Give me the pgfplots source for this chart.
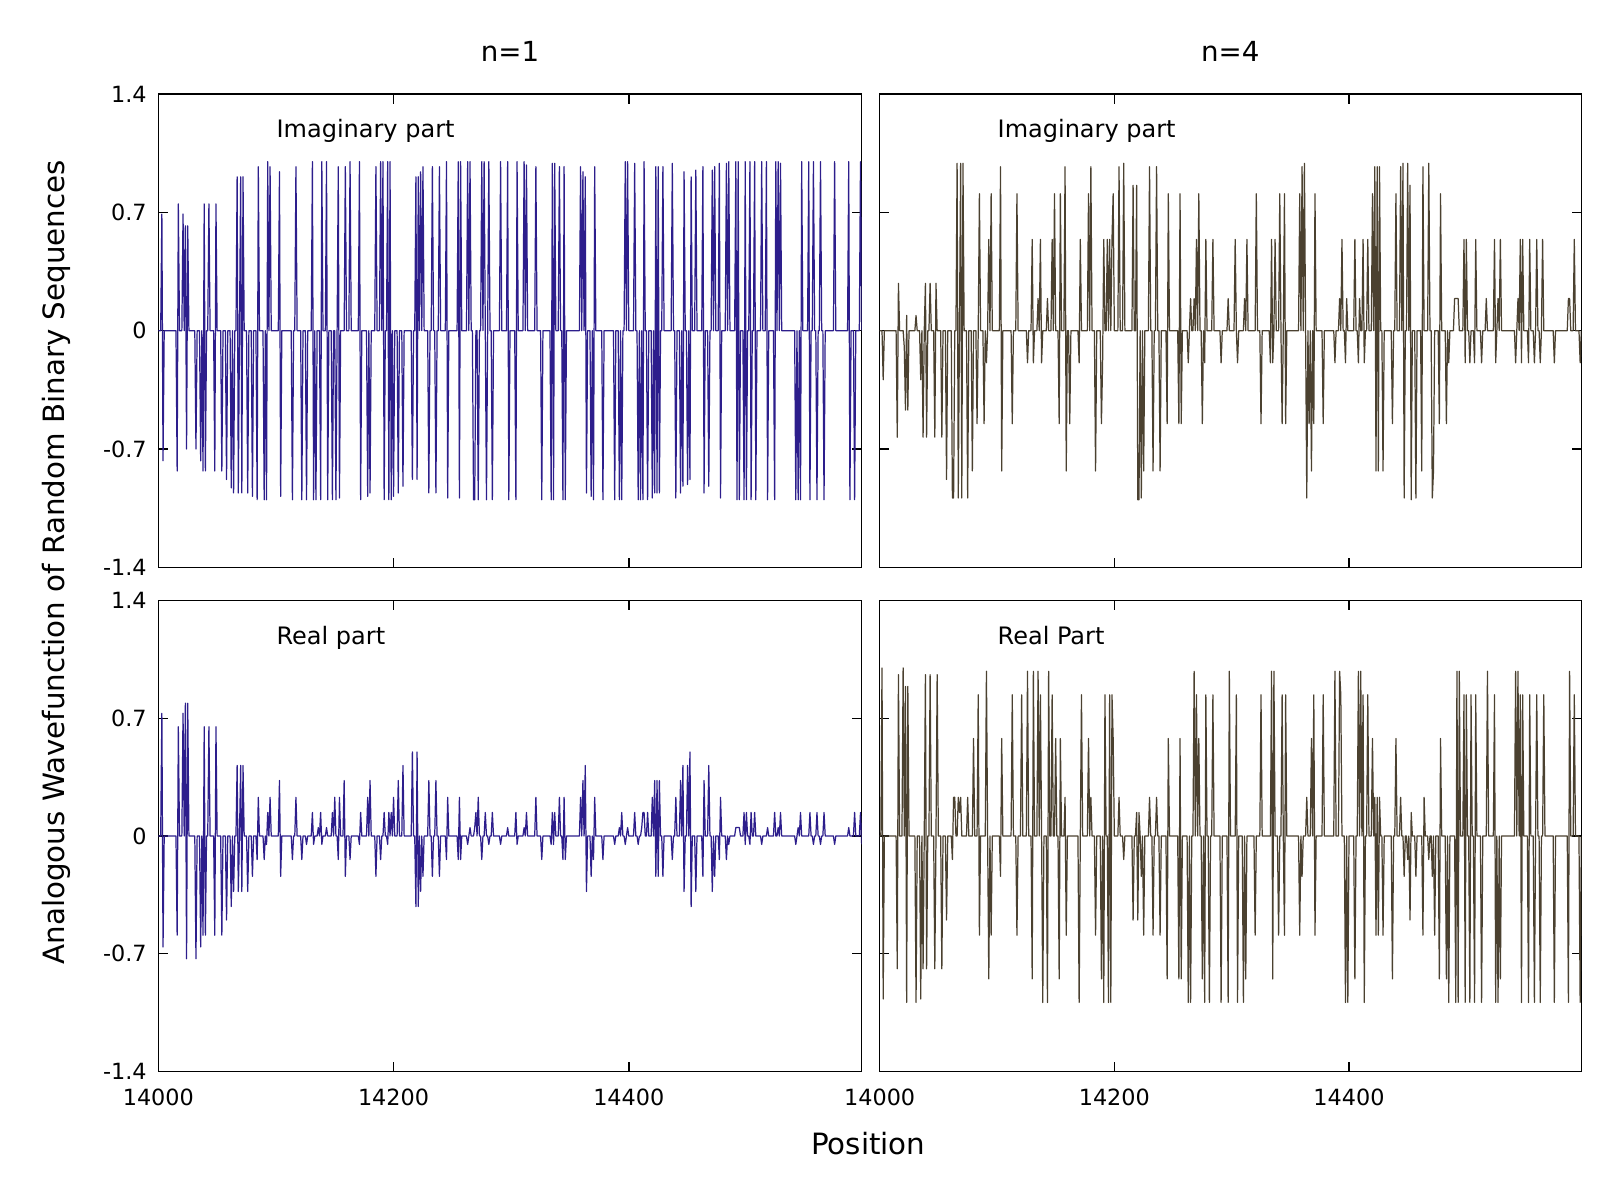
\documentclass[border=0pt]{standalone}
\usepackage{pgfplots}
\pgfplotsset{compat=1.18}
\usepackage{fontspec}
\setmainfont{DejaVu Sans}
\definecolor{rbsblue}{RGB}{45,30,140}
\definecolor{rbsbrown}{RGB}{75,65,48}
\newcommand\tickfont{\fontsize{6.7pt}{8pt}\selectfont}
\newcommand\labfont{\fontsize{7.2pt}{8.6pt}\selectfont}
\newcommand\titfont{\fontsize{8.3pt}{10pt}\selectfont}
\newcommand\axfont{\fontsize{8.8pt}{10.5pt}\selectfont}
\pgfplotsset{
  rbs/.style={scale only axis, xmin=0, xmax=598, ymin=-1.4, ymax=1.4,
    xtick={0,200,400}, ytick={-1.4,-0.7,0,0.7,1.4},
    xticklabels={14000,14200,14400}, yticklabels={-1.4,-0.7,0,0.7,1.4},
    tick align=inside, major tick length=2.9pt,
    tick style={black, line width=0.45pt},
    axis line style={black, line width=0.45pt},
    xticklabel style={font=\tickfont, inner sep=0pt, anchor=north, yshift=-5.2pt},
    yticklabel style={font=\tickfont, inner sep=0pt, anchor=east, xshift=-3.3pt},
  },
  rbsline/.style={line width=0.37pt, line join=round, mark=none},
}
\begin{document}
\begin{tikzpicture}
\path[use as bounding box] (0,0) rectangle (480pt,360pt);
% top left: n=1 imaginary
\begin{axis}[rbs, at={(47.5pt,189.8pt)}, anchor=south west, width=211pt, height=142pt, xticklabels={,,}]
\addplot[rbsline, rbsblue] coordinates {(0,0)(2,0)(3,.69)(4,-.77)(5,0)(15,0)(16,-.83)(17,.75)(18,0)(20,0)(21,.69)(22,0)(23,.62)(24,-.70)(25,.62)(26,0)(31,0)(32,-.70)(33,0)(35,0)(36,-.77)(37,0)(38,-.83)(39,.75)(40,-.83)(41,0)(42,0)(43,.75)(44,0)(47,0)(48,-.83)(49,.75)(50,0)(53,0)(54,-.83)(55,0)(57,0)(58,-.88)(59,0)(61,0)(62,-.93)(63,0)(64,-.96)(65,0)(66,0)(67,.91)(68,-.96)(69,0)(70,.91)(71,-.96)(72,.91)(73,0)(75,0)(76,-.96)(77,0)(79,0)(80,-.98)(81,0)(83,0)(84,-1)(85,.97)(86,0)(89,0)(90,-1)(91,0)(92,-1)(93,1)(94,0)(95,.97)(96,0)(102,0)(103,.94)(104,-.98)(105,0)(113,0)(114,-1)(115,0)(116,0)(117,.97)(118,0)(121,0)(122,-1)(123,0)(125,0)(126,-1)(127,0)(130,0)(131,1)(132,-1)(133,0)(134,-1)(135,0)(137,0)(138,-1)(139,1)(140,0)(142,0)(143,1)(144,-1)(145,0)(147,0)(148,-1)(149,0)(150,0)(151,-1)(152,0)(153,.97)(154,-.99)(155,0)(158,0)(159,.97)(160,0)(162,0)(163,1)(164,0)(170,0)(171,1)(172,-1)(173,0)(177,0)(178,-.98)(179,0)(180,-.96)(181,0)(184,0)(185,.97)(186,0)(188,0)(189,1)(190,0)(191,1)(192,-1)(193,0)(194,0)(195,1)(196,-1)(197,1)(198,-1)(199,0)(200,-.98)(201,0)(203,0)(204,-.96)(205,0)(207,0)(208,-.92)(209,0)(215,0)(216,-.88)(217,0)(218,0)(219,.91)(220,-.88)(221,.91)(222,0)(223,.94)(224,0)(225,.97)(226,0)(229,0)(230,-.96)(231,0)(232,0)(233,.97)(234,0)(235,0)(236,-.96)(237,0)(238,0)(239,.97)(240,0)(244,0)(245,1)(246,-.99)(247,0)(254,0)(255,1)(256,-.99)(257,1)(258,0)(262,0)(263,1)(264,0)(265,1)(266,0)(267,0)(268,-1)(269,-1)(270,0)(271,0)(272,-1)(273,0)(274,0)(275,1)(276,0)(277,1)(278,0)(279,-1)(280,0)(281,1)(282,0)(283,0)(284,-1)(285,0)(290,0)(291,1)(292,0)(296,0)(297,1)(298,-1)(299,0)(303,0)(304,-1)(305,1)(306,0)(310,0)(311,1)(312,0)(313,.98)(314,0)(320,0)(321,.97)(322,0)(325,0)(326,-1)(327,0)(333,0)(334,-1)(335,.99)(336,-1)(337,.99)(338,0)(340,0)(341,.97)(342,0)(343,0)(344,-1)(345,.97)(346,-1)(347,0)(358,0)(359,.97)(360,0)(361,.94)(362,0)(363,.91)(364,-.96)(365,0)(367,0)(368,-.98)(369,0)(370,-1)(371,.97)(372,0)(377,0)(378,-1)(379,0)(387,0)(388,-1)(389,0)(391,0)(392,-1)(393,0)(394,-1)(395,0)(396,0)(397,1)(398,0)(399,1)(400,0)(404,0)(405,.99)(406,0)(407,0)(408,-1)(409,0)(410,-1)(411,0)(412,-1)(413,1)(414,0)(415,0)(416,-1)(417,0)(419,0)(420,-.99)(421,0)(422,-.96)(423,.97)(424,-.96)(425,.97)(426,-.96)(427,0)(428,0)(429,.97)(430,0)(436,0)(437,.99)(438,0)(439,0)(440,-.99)(441,0)(443,0)(444,-.96)(445,0)(446,-.92)(447,.94)(448,0)(449,0)(450,-.91)(451,0)(452,-.88)(453,.91)(454,0)(456,0)(457,.95)(458,0)(462,0)(463,.97)(464,-.96)(465,0)(467,0)(468,-.92)(469,0)(470,0)(471,.95)(472,0)(473,.97)(474,0)(476,0)(477,.99)(478,-.99)(479,0)(482,0)(483,.99)(484,0)(485,1)(486,0)(490,0)(491,1)(492,-1)(493,1)(494,-1)(495,0)(497,0)(498,-1)(499,1)(500,-1)(501,0)(502,0)(503,1)(504,-1)(505,0)(506,0)(507,1)(508,-1)(509,0)(512,0)(513,1)(514,0)(516,0)(517,1)(518,-1)(519,0)(523,0)(524,-1)(525,1)(526,0)(527,1)(528,0)(529,.99)(530,0)(541,0)(542,-1)(543,0)(544,-1)(545,0)(546,-1)(547,1)(548,0)(552,0)(553,1)(554,-1)(555,0)(556,0)(557,1)(558,0)(559,0)(560,-1)(561,0)(562,0)(563,1)(564,0)(565,0)(566,-1)(567,0)(574,0)(575,1)(576,0)(586,0)(587,1)(588,-1)(589,0)(591,0)(592,-1)(593,0)(596,0)(597,1)(598,0)};
\node[anchor=base west, inner sep=0pt, font=\labfont] at (axis cs:100,1.14) {Imaginary part};
\end{axis}
% bottom left: n=1 real
\begin{axis}[rbs, at={(47.5pt,38.6pt)}, anchor=south west, width=211pt, height=141.2pt]
\addplot[rbsline, rbsblue] coordinates {(0,0)(2,0)(3,.73)(4,-.66)(5,0)(15,0)(16,-.59)(17,.65)(18,0)(20,0)(21,.73)(22,0)(23,.79)(24,-.73)(25,.79)(26,0)(31,0)(32,-.73)(33,0)(35,0)(36,-.66)(37,0)(38,-.59)(39,.65)(40,-.59)(41,0)(42,0)(43,.65)(44,0)(47,0)(48,-.59)(49,.65)(50,0)(53,0)(54,-.59)(55,0)(57,0)(58,-.5)(59,0)(61,0)(62,-.42)(63,0)(64,-.33)(65,0)(66,0)(67,.42)(68,-.33)(69,0)(70,.42)(71,-.33)(72,.42)(73,0)(75,0)(76,-.33)(77,0)(79,0)(80,-.24)(81,0)(83,0)(84,-.14)(85,.23)(86,0)(89,0)(90,-.14)(91,0)(92,-.05)(93,.14)(94,0)(95,.23)(96,0)(102,0)(103,.33)(104,-.24)(105,0)(113,0)(114,-.14)(115,0)(116,0)(117,.23)(118,0)(121,0)(122,-.14)(123,0)(125,0)(126,-.05)(127,0)(130,0)(131,.14)(132,-.05)(133,0)(135,0)(136,.05)(137,0)(138,.14)(139,-.05)(140,0)(142,0)(143,.05)(144,0)(147,0)(148,.14)(149,0)(150,.23)(151,0)(152,0)(153,-.14)(154,.23)(155,0)(157,0)(158,.33)(159,-.24)(160,0)(162,0)(163,-.14)(164,0)(170,0)(171,-.05)(172,.14)(173,0)(177,0)(178,.23)(179,0)(180,.33)(181,0)(184,0)(185,-.24)(186,0)(188,0)(189,-.14)(190,0)(191,0)(192,.14)(193,0)(194,0)(195,-.05)(196,.14)(197,0)(198,.14)(199,0)(200,.23)(201,0)(203,0)(204,.33)(205,0)(207,0)(208,.42)(209,0)(215,0)(216,.5)(217,0)(218,0)(219,-.42)(220,.5)(221,-.42)(222,0)(223,-.33)(224,0)(225,-.24)(226,0)(229,0)(230,.33)(231,0)(232,0)(233,-.24)(234,0)(235,0)(236,.33)(237,0)(238,0)(239,-.24)(240,0)(244,0)(245,-.14)(246,.23)(247,0)(254,0)(255,-.14)(256,.23)(257,-.14)(258,0)(262,0)(263,-.05)(264,0)(265,.05)(266,0)(268,0)(269,.05)(270,.14)(271,0)(272,.23)(273,0)(274,0)(275,-.14)(276,0)(277,0)(278,.14)(279,0)(280,0)(281,-.05)(282,0)(283,0)(284,.14)(285,0)(290,0)(291,-.05)(292,0)(296,0)(297,.05)(298,0)(303,0)(304,.14)(305,-.05)(306,0)(310,0)(311,.05)(312,0)(313,.14)(314,0)(320,0)(321,.23)(322,0)(325,0)(326,-.14)(327,0)(333,0)(334,-.05)(335,.14)(336,-.05)(337,.14)(338,0)(340,0)(341,.23)(342,0)(343,0)(344,-.14)(345,.23)(346,-.14)(347,0)(358,0)(359,.23)(360,0)(361,.33)(362,0)(363,.42)(364,-.33)(365,0)(367,0)(368,-.24)(369,0)(370,-.14)(371,.23)(372,0)(377,0)(378,-.14)(379,0)(387,0)(388,-.05)(389,0)(391,0)(392,.05)(393,0)(394,.14)(395,0)(396,0)(397,-.05)(398,0)(399,.05)(400,0)(404,0)(405,.14)(406,0)(407,0)(408,-.05)(409,0)(410,0)(411,.05)(412,.14)(413,.14)(414,0)(415,0)(416,.14)(417,0)(419,0)(420,.23)(421,0)(422,.33)(423,-.24)(424,.33)(425,-.24)(426,.33)(427,0)(428,0)(429,-.24)(430,0)(436,0)(437,-.14)(438,0)(439,0)(440,.23)(441,0)(443,0)(444,.33)(445,0)(446,.42)(447,-.33)(448,0)(449,0)(450,.42)(451,0)(452,.5)(453,-.42)(454,0)(456,0)(457,-.33)(458,0)(462,0)(463,-.24)(464,.33)(465,0)(467,0)(468,.42)(469,0)(470,0)(471,-.33)(472,0)(473,-.24)(474,0)(476,0)(477,-.14)(478,.23)(479,0)(482,0)(483,-.14)(484,0)(485,-.05)(486,0)(490,0)(491,.05)(492,.05)(493,.05)(494,.05)(495,0)(497,0)(498,.14)(499,-.05)(500,.14)(501,0)(502,0)(503,-.05)(504,.14)(505,0)(506,0)(507,.14)(508,0)(512,0)(513,-.05)(514,0)(517,0)(518,.05)(519,0)(523,0)(524,.14)(525,0)(526,0)(527,.05)(528,0)(529,.14)(530,0)(541,0)(542,-.05)(543,0)(544,.05)(545,0)(546,.14)(547,0)(553,0)(554,.14)(555,0)(556,0)(557,-.05)(558,0)(559,0)(560,.14)(561,0)(562,0)(563,-.05)(564,0)(565,0)(566,.14)(567,0)(574,0)(575,-.05)(576,0)(586,0)(587,.05)(588,0)(591,0)(592,.14)(593,0)(596,0)(597,.14)(598,-.05)};
\node[anchor=base west, inner sep=0pt, font=\labfont] at (axis cs:100,1.14) {Real part};
\end{axis}
% top right: n=4 imaginary
\begin{axis}[rbs, at={(263.9pt,189.8pt)}, anchor=south west, width=210.5pt, height=142pt, xticklabels={,,}, yticklabels={,,,,}]
\addplot[rbsline, rbsbrown] coordinates {(0,0)(2,0)(3,-.29)(4,0)(14,0)(15,-.63)(16,.28)(17,0)(20,0)(21,-.1)(22,-.47)(23,.09)(24,-.47)(25,0)(30,0)(31,.09)(32,0)(34,0)(35,-.29)(36,0)(37,-.63)(38,0)(39,.28)(40,-.63)(41,0)(42,0)(43,.28)(44,0)(46,0)(47,-.63)(48,.28)(49,0)(52,0)(53,-.63)(54,0)(56,0)(57,-.88)(58,0)(61,0)(62,-.99)(63,-.99)(64,0)(65,0)(66,.99)(67,-.99)(68,0)(69,.99)(70,-.99)(71,.99)(72,0)(74,0)(75,-.99)(76,0)(78,0)(79,-.83)(80,0)(82,0)(83,-.55)(84,0)(85,.81)(86,0)(88,0)(89,-.55)(90,0)(91,-.19)(92,0)(93,.54)(94,0)(95,.81)(96,0)(102,0)(103,.97)(104,-.83)(105,0)(112,0)(113,-.55)(114,0)(116,0)(117,.81)(118,0)(125,0)(126,-.19)(127,0)(129,0)(130,.54)(131,-.19)(132,0)(134,0)(135,.19)(136,0)(137,.54)(138,-.19)(139,0)(142,0)(143,.19)(144,0)(146,0)(147,.54)(148,0)(149,.81)(150,0)(152,0)(153,-.55)(154,.81)(155,0)(157,0)(158,.97)(159,-.83)(160,0)(161,0)(162,-.55)(163,0)(169,0)(170,-.19)(171,.54)(172,0)(177,0)(178,.81)(179,0)(180,.97)(181,0)(183,0)(184,-.83)(185,0)(188,0)(189,-.55)(190,-.19)(191,.54)(192,0)(193,0)(194,.54)(195,0)(196,.54)(197,0)(198,.54)(199,.81)(200,0)(203,0)(204,.97)(205,0)(207,0)(208,.99)(209,0)(215,0)(216,.86)(217,0)(218,0)(219,.86)(220,-1)(221,-1)(222,0)(223,-.99)(224,0)(225,-.83)(226,0)(229,0)(230,.97)(231,0)(232,0)(233,-.83)(234,0)(235,0)(236,.97)(237,0)(238,0)(239,-.83)(240,0)(244,0)(245,-.55)(246,.81)(247,0)(254,0)(255,-.55)(256,.81)(257,-.55)(258,0)(262,0)(263,-.19)(264,0)(265,.19)(266,0)(267,0)(268,.19)(269,0)(270,.54)(271,0)(272,.81)(273,0)(274,0)(275,-.55)(276,0)(277,-.19)(278,.54)(279,0)(283,0)(284,.54)(285,0)(290,0)(291,-.19)(292,0)(296,0)(297,.19)(298,0)(302,0)(303,.54)(304,0)(305,-.19)(306,0)(310,0)(311,.19)(312,0)(313,.54)(314,0)(320,0)(321,.81)(322,0)(324,0)(325,-.55)(326,0)(332,0)(333,-.19)(334,.54)(335,-.19)(336,0)(337,.54)(338,0)(340,0)(341,.81)(342,0)(343,-.55)(344,0)(345,.81)(346,-.55)(347,0)(357,0)(358,.81)(359,0)(360,.97)(361,0)(362,.99)(363,0)(364,-.99)(365,0)(366,-.55)(367,0)(368,-.83)(369,0)(370,-.55)(371,.81)(372,0)(377,0)(378,-.55)(379,0)(387,0)(388,-.19)(389,0)(391,0)(392,.19)(393,0)(394,.54)(395,0)(396,0)(397,-.19)(398,.19)(399,0)(404,0)(405,.54)(406,0)(407,0)(408,-.19)(409,.19)(410,0)(411,0)(412,.54)(413,-.19)(414,0)(415,0)(416,.54)(417,0)(419,0)(420,.81)(421,0)(422,.97)(423,-.83)(424,.97)(425,-.83)(426,.97)(427,0)(428,0)(429,-.83)(430,0)(436,0)(437,-.55)(438,0)(439,0)(440,.81)(441,0)(443,0)(444,.97)(445,0)(446,.99)(447,-.99)(448,0)(449,0)(450,.99)(451,0)(452,.86)(453,-1)(454,0)(456,0)(457,-.99)(458,0)(461,0)(462,-.83)(463,.97)(464,0)(467,0)(468,.99)(469,0)(470,0)(471,-.99)(472,-.83)(473,0)(476,0)(477,-.55)(478,.81)(479,0)(482,0)(483,-.55)(484,0)(485,-.19)(486,0)(489,0)(490,.19)(491,.19)(492,.19)(493,.19)(494,0)(497,0)(498,.54)(499,-.19)(500,.54)(501,0)(502,0)(503,-.19)(504,0)(506,0)(507,-.19)(508,.54)(509,0)(512,0)(513,-.19)(514,0)(516,0)(517,.19)(518,0)(523,0)(524,.54)(525,-.19)(526,0)(527,.19)(528,0)(529,.54)(530,0)(541,0)(542,-.19)(543,0)(544,.19)(545,0)(546,.54)(547,-.19)(548,.54)(549,0)(552,0)(553,-.19)(554,.54)(555,0)(557,0)(558,-.19)(559,0)(560,.54)(561,0)(562,0)(563,-.19)(564,0)(565,.54)(566,0)(574,0)(575,-.19)(576,0)(586,0)(587,.19)(588,.19)(589,0)(591,0)(592,.54)(593,0)(596,0)(597,-.19)(598,0)};
\node[anchor=base west, inner sep=0pt, font=\labfont] at (axis cs:100,1.14) {Imaginary part};
\end{axis}
% bottom right: n=4 real
\begin{axis}[rbs, at={(263.9pt,38.6pt)}, anchor=south west, width=210.5pt, height=141.2pt, yticklabels={,,,,}]
\addplot[rbsline, rbsbrown] coordinates {(0,0)(1,0)(2,1)(3,-.97)(4,0)(14,0)(15,-.79)(16,.96)(17,0)(19,0)(20,1)(21,0)(22,.89)(23,-.99)(24,.89)(25,0)(30,0)(31,-.99)(32,0)(34,0)(35,-.97)(36,0)(37,-.79)(38,0)(39,.96)(40,-.79)(41,0)(42,0)(43,.96)(44,0)(46,0)(47,-.79)(48,0)(49,.96)(50,0)(52,0)(53,-.79)(54,0)(56,0)(57,-.5)(58,0)(61,0)(62,-.14)(63,.23)(64,.23)(65,0)(66,0)(67,.23)(68,.14)(69,.23)(70,0)(74,0)(75,.23)(76,0)(79,0)(80,.58)(81,0)(83,0)(84,.84)(85,-.59)(86,0)(90,0)(91,.98)(92,0)(93,-.85)(94,0)(95,-.59)(96,0)(102,0)(103,-.24)(104,.58)(105,0)(112,0)(113,.84)(114,0)(116,0)(117,-.59)(118,0)(120,0)(121,.84)(122,0)(125,0)(126,.98)(127,0)(129,0)(130,-.85)(131,.98)(132,0)(134,0)(135,.98)(136,0)(137,.84)(138,0)(139,-.99)(140,0)(142,0)(143,-.99)(144,.98)(145,0)(146,0)(147,.84)(148,0)(149,0)(150,.58)(151,0)(152,0)(153,-.85)(154,.58)(155,0)(157,0)(158,.23)(159,-.59)(160,0)(169,0)(170,-.99)(171,0)(172,.84)(173,0)(177,0)(178,.58)(179,0)(180,.23)(181,0)(183,0)(184,-.59)(185,0)(188,0)(189,-.85)(190,0)(191,-.99)(192,.84)(193,0)(194,0)(195,-.99)(196,.84)(197,-.99)(198,.84)(199,.58)(200,0)(203,0)(204,.23)(205,0)(207,0)(208,-.14)(209,0)(215,0)(216,-.5)(217,0)(218,0)(219,.14)(220,-.5)(221,.14)(222,0)(223,-.24)(224,0)(225,-.59)(226,0)(229,0)(230,.23)(231,0)(232,0)(233,-.59)(234,0)(235,0)(236,.23)(237,0)(238,0)(239,-.59)(240,0)(244,0)(245,-.85)(246,.58)(247,0)(254,0)(255,-.85)(256,.58)(257,-.85)(258,0)(262,0)(263,-.99)(264,0)(265,-.99)(266,0)(267,0)(268,.98)(269,0)(270,.84)(271,0)(272,.58)(273,0)(274,0)(275,-.85)(276,0)(277,-.99)(278,.84)(279,0)(280,0)(281,-.99)(282,0)(283,0)(284,.84)(285,0)(290,0)(291,-.99)(292,0)(296,0)(297,-.99)(298,.98)(299,0)(303,0)(304,.84)(305,-.99)(306,0)(309,0)(310,-.99)(311,0)(312,-.85)(313,0)(319,0)(320,-.59)(321,0)(324,0)(325,.84)(326,0)(333,0)(334,.98)(335,-.85)(336,.98)(337,0)(339,0)(340,-.59)(341,0)(342,0)(343,.84)(344,0)(345,-.59)(346,.84)(347,0)(357,0)(358,-.59)(359,0)(360,-.24)(361,0)(363,0)(364,.23)(365,0)(367,0)(368,.58)(369,0)(370,.84)(371,-.59)(372,0)(377,0)(378,.84)(379,0)(387,0)(388,.98)(389,0)(391,0)(392,.98)(393,.84)(394,0)(396,0)(397,-.99)(398,0)(399,-.99)(400,0)(404,0)(405,-.85)(406,0)(407,0)(408,.98)(409,0)(410,.98)(411,0)(412,.84)(413,-.99)(414,0)(415,0)(416,.84)(417,0)(419,0)(420,.58)(421,0)(422,.23)(423,-.59)(424,.23)(425,-.59)(426,.23)(427,0)(428,0)(429,-.59)(430,0)(436,0)(437,-.85)(438,0)(439,0)(440,.58)(441,0)(443,0)(444,.23)(445,0)(446,0)(447,-.24)(448,0)(449,0)(450,-.14)(451,0)(452,-.5)(453,.14)(454,0)(456,0)(457,-.24)(458,0)(462,0)(463,-.59)(464,.23)(465,0)(467,0)(468,-.14)(469,0)(470,0)(471,-.24)(472,0)(473,-.59)(474,0)(476,0)(477,-.85)(478,.58)(479,0)(482,0)(483,-.85)(484,0)(485,-.99)(486,0)(490,0)(491,-.99)(492,.98)(493,-.99)(494,.98)(495,0)(497,0)(498,.84)(499,-.99)(500,.84)(501,0)(502,0)(503,-.99)(504,.84)(505,0)(506,0)(507,-.99)(508,.84)(509,0)(512,0)(513,-.99)(514,0)(517,0)(518,.98)(519,0)(523,0)(524,.84)(525,-.99)(526,0)(527,-.99)(528,0)(529,-.85)(530,0)(541,0)(542,.98)(543,0)(544,.98)(545,0)(546,.84)(547,-.99)(548,.84)(549,0)(552,0)(553,-.99)(554,.84)(555,0)(557,0)(558,-.99)(559,0)(560,.84)(561,0)(562,0)(563,-.99)(564,0)(565,0)(566,.84)(567,0)(574,0)(575,-.99)(576,0)(586,0)(587,-.99)(588,.98)(589,0)(591,0)(592,.84)(593,0)(596,0)(597,-.99)(598,0)};
\node[anchor=base west, inner sep=0pt, font=\labfont] at (axis cs:100,1.14) {Real Part};
\end{axis}
% titles and axis labels
\node[anchor=base, inner sep=0pt, font=\titfont] at (153pt,341.7pt) {n=1};
\node[anchor=base, inner sep=0pt, font=\titfont] at (369.1pt,341.7pt) {n=4};
\node[anchor=base, inner sep=0pt, font=\axfont] at (260.5pt,13.6pt) {Position};
\node[rotate=90, anchor=center, inner sep=0pt, font=\axfont] at (17pt,191.3pt) {Analogous Wavefunction of Random Binary Sequences};
\end{tikzpicture}
\end{document}
